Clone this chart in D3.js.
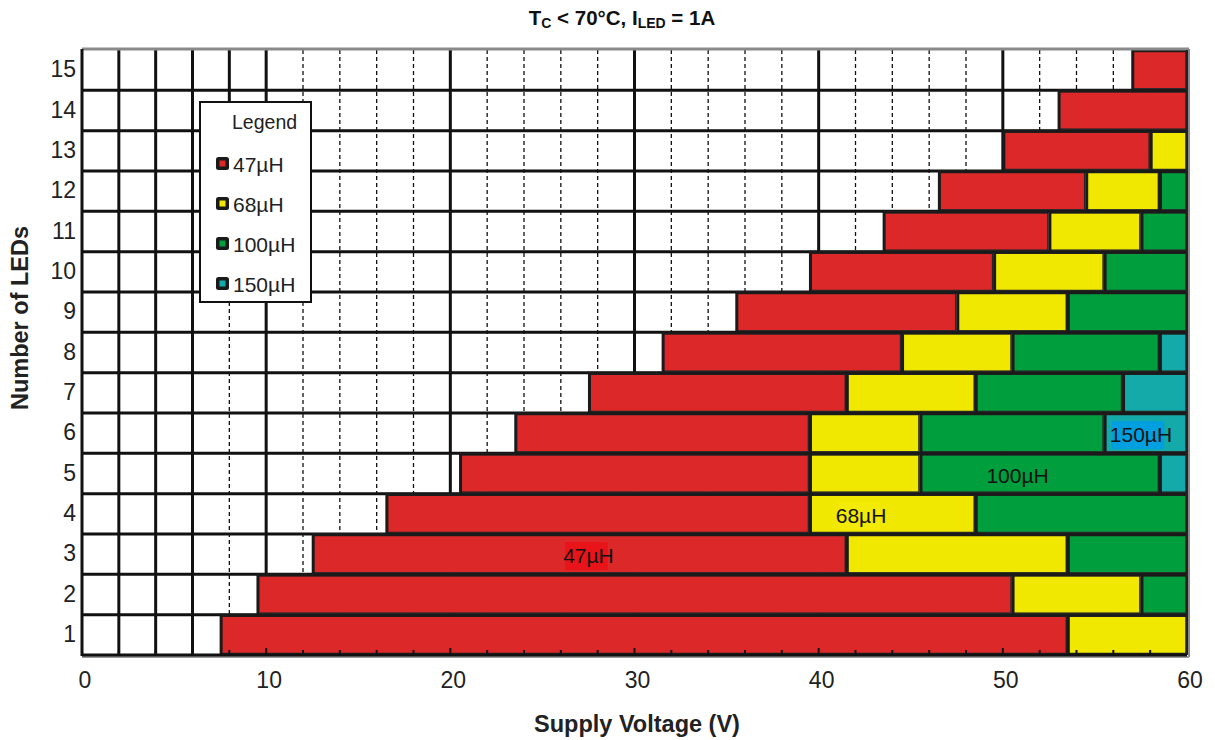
<!DOCTYPE html>
<html>
<head>
<meta charset="utf-8">
<script src="https://cdn.jsdelivr.net/npm/d3@7"></script>
<style>
  body { margin: 0; background: #fff; }
  text { font-family: Arial, "Liberation Sans", sans-serif; }
</style>
</head>
<body>
<svg id="chart" width="1215" height="740"></svg>
<script>
// number of LEDs per row
var leds = [1, 2, 3, 4, 5, 6, 7, 8, 9, 10, 11, 12, 13, 14, 15];
// supply voltage where each inductor zone begins / ends (V)
var start47 = [7.5, 9.5, 12.5, 16.5, 20.5, 23.5, 27.5, 31.5, 35.5, 39.5, 43.5, 46.5, 50, 53, 57];
var end47  = [53.5, 50.5, 41.5, 39.5, 39.5, 39.5, 41.5, 44.5, 47.5, 49.5, 52.5, 54.5, 58, 60, 60];
var end68  = [60, 57.5, 53.5, 48.5, 45.5, 45.5, 48.5, 50.5, 53.5, 55.5, 57.5, 58.5, 60, 60, 60];
var end100 = [60, 60, 60, 60, 58.5, 55.5, 56.5, 58.5, 60, 60, 60, 60, 60, 60, 60];
var end150 = [60, 60, 60, 60, 60, 60, 60, 60, 60, 60, 60, 60, 60, 60, 60];

var inductors = ["47µH", "68µH", "100µH", "150µH"];
var colors = ["#dc2828", "#f0e800", "#009e3c", "#14aaa9"];
var xTicks = [0, 10, 20, 30, 40, 50, 60];

// labels written inside the zones
var zoneLabels = [
  {text: "47µH", v: 27.5, n: 3, bg: "#e8141a"},
  {text: "68µH", v: 42.3, n: 4, bg: "#f3ea05"},
  {text: "100µH", v: 50.8, n: 5, bg: null},
  {text: "150µH", v: 57.5, n: 6, bg: "#00a0e0"}
];

var svg = d3.select("#chart");

var x = d3.scaleLinear().domain([0, 60]).range([82, 1187]);
var y = d3.scaleLinear().domain([0, 15]).range([655, 50]);
var rowH = y(0) - y(1);

// grid
var grid = svg.append("g");
d3.range(2, 60, 2).forEach(function(v) {
  var solid = v % 10 === 0 || v < 8;
  grid.append("line")
    .attr("x1", x(v)).attr("x2", x(v))
    .attr("y1", y(15)).attr("y2", y(0))
    .attr("stroke", "#111")
    .attr("stroke-width", solid ? 3 : 1.3)
    .attr("stroke-dasharray", solid ? null : "4,3");
});
// the 8 V line is solid in the upper rows
grid.append("line")
  .attr("x1", x(8)).attr("x2", x(8))
  .attr("y1", y(15)).attr("y2", y(9))
  .attr("stroke", "#111").attr("stroke-width", 3);
d3.range(1, 15).forEach(function(n) {
  grid.append("line")
    .attr("x1", x(0)).attr("x2", x(60))
    .attr("y1", y(n)).attr("y2", y(n))
    .attr("stroke", "#111")
    .attr("stroke-width", 3);
});

// zone segments
var ends = [end47, end68, end100, end150];
var segs = [];
leds.forEach(function(n, i) {
  var a = start47[i];
  ends.forEach(function(arr, k) {
    var b = arr[i];
    if (b > a) segs.push({n: n, a: a, b: b, k: k});
    a = Math.max(a, b);
  });
});

var bars = svg.append("g");
bars.selectAll("rect")
  .data(segs)
  .enter()
  .append("rect")
  .attr("x", function(d) { return x(d.a) + 1; })
  .attr("y", function(d) { return y(d.n) + 1.5; })
  .attr("width", function(d) { return x(d.b) - x(d.a) - 2; })
  .attr("height", rowH - 3)
  .attr("fill", function(d) { return colors[d.k]; })
  .attr("stroke", "#262626")
  .attr("stroke-width", 1.5);

// heavy outline along the left and top of every zone
bars.selectAll("path.edge")
  .data(segs)
  .enter()
  .append("path")
  .attr("class", "edge")
  .attr("d", function(d) {
    return "M" + (x(d.a) + 1) + "," + (y(d.n - 1)) + "V" + (y(d.n) + 0.5) + "H" + (x(d.b) - 1);
  })
  .attr("fill", "none")
  .attr("stroke", "#1a1a1a")
  .attr("stroke-width", 3);

// zone labels
var lab = svg.append("g");
zoneLabels.forEach(function(l) {
  var t = lab.append("text")
    .attr("x", x(l.v))
    .attr("y", y(l.n - 0.5) + 9)
    .attr("text-anchor", "middle")
    .attr("font-size", 21)
    .attr("fill", "#111")
    .text(l.text);
  if (l.bg) {
    var bb = t.node().getBBox();
    lab.insert("rect", function() { return t.node(); })
      .attr("x", bb.x + 2).attr("y", bb.y - 2)
      .attr("width", bb.width * 0.84).attr("height", bb.height + 5)
      .attr("fill", l.bg);
  }
});

// frame
svg.append("line").attr("x1", x(0)).attr("x2", x(60) + 2).attr("y1", y(15) - 1).attr("y2", y(15) - 1)
  .attr("stroke", "#8a8a8a").attr("stroke-width", 3);
svg.append("line").attr("x1", x(60) + 2).attr("x2", x(60) + 2).attr("y1", y(15) - 1).attr("y2", y(0) + 2)
  .attr("stroke", "#8a8a8a").attr("stroke-width", 2);
svg.append("line").attr("x1", x(0)).attr("x2", x(60) + 2).attr("y1", y(0) + 2).attr("y2", y(0) + 2)
  .attr("stroke", "#9a9a9a").attr("stroke-width", 2);
svg.append("line").attr("x1", x(0)).attr("x2", x(60)).attr("y1", y(0)).attr("y2", y(0))
  .attr("stroke", "#111").attr("stroke-width", 3);
svg.append("line").attr("x1", x(0)).attr("x2", x(0)).attr("y1", y(15) - 1).attr("y2", y(0) + 1)
  .attr("stroke", "#111").attr("stroke-width", 3);
svg.append("line").attr("x1", x(60)).attr("x2", x(60)).attr("y1", y(15)).attr("y2", y(0))
  .attr("stroke", "#222").attr("stroke-width", 2);

// small ticks on the bottom axis
svg.append("g").selectAll("line")
  .data(d3.range(2, 60, 2))
  .enter()
  .append("line")
  .attr("x1", function(d) { return x(d); })
  .attr("x2", function(d) { return x(d); })
  .attr("y1", y(0))
  .attr("y2", function(d) { return y(0) - (d % 10 === 0 ? 7 : 5); })
  .attr("stroke", "#111")
  .attr("stroke-width", 2);

// axis labels
svg.append("g").selectAll("text")
  .data(xTicks)
  .enter()
  .append("text")
  .attr("x", function(d) { return x(d) + 3; })
  .attr("y", 688)
  .attr("text-anchor", "middle")
  .attr("font-size", 23)
  .attr("fill", "#222")
  .text(function(d) { return d; });

svg.append("g").selectAll("text")
  .data(leds)
  .enter()
  .append("text")
  .attr("x", 76)
  .attr("y", function(d) { return y(d - 0.5) + 7; })
  .attr("text-anchor", "end")
  .attr("font-size", 23)
  .attr("fill", "#222")
  .text(function(d) { return d; });

svg.append("text")
  .attr("x", 637).attr("y", 732)
  .attr("text-anchor", "middle")
  .attr("font-size", 23.5).attr("font-weight", "bold").attr("fill", "#222")
  .text("Supply Voltage (V)");

svg.append("text")
  .attr("transform", "translate(28,318) rotate(-90)")
  .attr("text-anchor", "middle")
  .attr("font-size", 23.5).attr("font-weight", "bold").attr("fill", "#222")
  .text("Number of LEDs");

var title = svg.append("text")
  .attr("x", 622).attr("y", 25)
  .attr("text-anchor", "middle")
  .attr("font-size", 20.5).attr("font-weight", "bold").attr("fill", "#111");
title.append("tspan").text("T");
title.append("tspan").attr("font-size", 14).attr("dy", 3).text("C");
title.append("tspan").attr("dy", -3).text(" < 70°C, I");
title.append("tspan").attr("font-size", 14).attr("dy", 3).text("LED");
title.append("tspan").attr("dy", -3).text(" = 1A");

// legend
var lg = svg.append("g").attr("transform", "translate(200,102)");
lg.append("rect").attr("width", 111).attr("height", 200)
  .attr("fill", "#fff").attr("stroke", "#111").attr("stroke-width", 2);
lg.append("text").attr("x", 32).attr("y", 27).attr("font-size", 19.5).attr("fill", "#222").text("Legend");
var items = lg.selectAll("g.item")
  .data(inductors)
  .enter()
  .append("g")
  .attr("class", "item")
  .attr("transform", function(d, i) { return "translate(0," + (61.5 + i * 40) + ")"; });
items.append("rect")
  .attr("x", 16).attr("y", -6.5).attr("width", 13).attr("height", 13).attr("rx", 2.5)
  .attr("fill", "#1a1a1a");
items.append("rect")
  .attr("x", 19.5).attr("y", -3).attr("width", 6).attr("height", 6)
  .attr("fill", function(d, i) { return colors[i]; });
items.append("text")
  .attr("x", 33).attr("y", 8)
  .attr("font-size", 21).attr("fill", "#222")
  .text(function(d) { return d; });
</script>
</body>
</html>
